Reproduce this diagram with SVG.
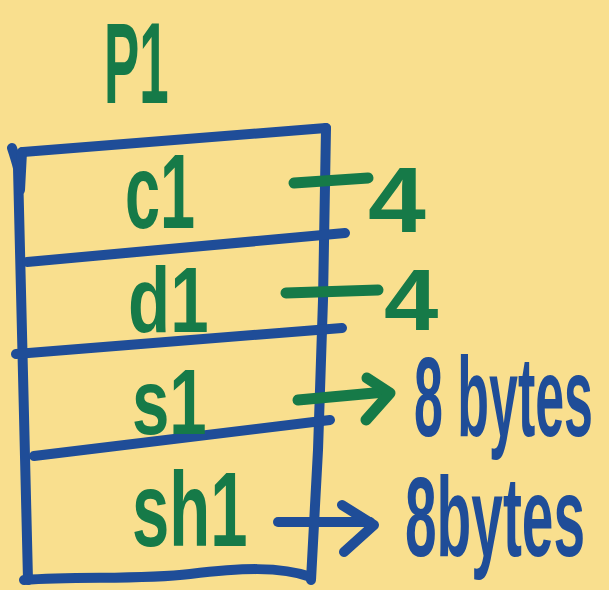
<svg xmlns="http://www.w3.org/2000/svg" width="609" height="590" viewBox="0 0 609 590">
<style>
.b{fill:none;stroke:#1f4d98;stroke-width:10;stroke-linecap:round;stroke-linejoin:round}
.g{fill:none;stroke:#167a48;stroke-width:11;stroke-linecap:round;stroke-linejoin:round}
.tg{fill:#167a48;font-family:"Liberation Sans",sans-serif;font-weight:bold}
.tb{fill:#1f4d98;font-family:"Liberation Sans",sans-serif;font-weight:bold}
</style>
<rect width="609" height="590" fill="#f9df8e"/>
<g id="frame">
<path class="b" d="M23,152 L326,128"/>
<path class="b" d="M12,148 Q16,160 18,168 L28,580"/>
<path class="b" d="M22,152 L20,190"/>
<path class="b" d="M326,128 L323,300 L318,450 L311,580"/>
<path class="b" d="M27,262 L345,233"/>
<path class="b" d="M16,354 L342,328"/>
<path class="b" d="M34,456 L330,420"/>
<path class="b" d="M24,580 C80,576 140,580 190,574 C240,568 280,566 311,577"/>
</g>
<g id="labels">
<text class="tg" transform="translate(104,103) scale(0.46,1)" font-size="115">P1</text>
<text class="tg" transform="translate(125,228) scale(0.6,1)" font-size="105">c1</text>
<text class="tg" transform="translate(128,332) scale(0.75,1)" font-size="92">d1</text>
<text class="tg" transform="translate(132,434) scale(0.73,1)" font-size="92">s1</text>
<text class="tg" transform="translate(132,546) scale(0.67,1.05)" font-size="100">sh1</text>
<text class="tg" transform="translate(368,232) scale(1.13,1)" font-size="92">4</text>
<text class="tg" transform="translate(384,330) scale(1.11,1)" font-size="88">4</text>
<text class="tb" transform="translate(414,436) scale(0.53,1.15)" font-size="98">8 bytes</text>
<text class="tb" transform="translate(405,556) scale(0.58,1.15)" font-size="98">8bytes</text>
</g>
<g id="connectors">
<path class="g" d="M294,183 L368,178"/>
<path class="g" d="M286,293 L378,290"/>
<path class="g" d="M298,400 L385,392"/>
<path class="g" d="M367,378 L390,393 L366,420"/>
<path class="b" d="M278,522 L370,522" stroke-width="11"/>
<path class="b" d="M342,505 L374,525 L344,552" stroke-width="11"/>
</g>
</svg>
